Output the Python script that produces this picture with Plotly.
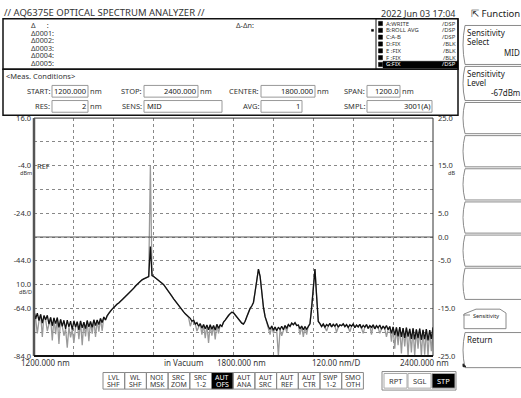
import plotly.graph_objects as go

W, H = 521, 398
FONT = "Noto Sans"

# ---------------- data ----------------
WL_START_NM = 1200
WL_STEP_NM = 5
# Trace A (black, WRITE) in dBm, one value every 5 nm from 1200 to 2400 nm
TRACE_A_DBM = [
    -65.2, -68.4, -66.0, -69.1, -66.5, -70.2, -67.0, -68.8, -66.9, -70.6,
    -67.8, -71.3, -68.0, -70.4, -67.9, -72.0, -68.6, -71.5, -69.0, -72.6,
    -68.9, -71.8, -69.4, -72.9, -69.2, -71.9, -69.6, -73.0, -69.3, -72.2,
    -69.8, -72.5, -69.1, -71.8, -69.5, -72.0, -68.8, -71.2, -68.9, -70.8,
    -68.2, -70.0, -67.6, -68.9, -67.0, -66.0, -65.0, -64.3, -63.6, -62.8,
    -62.2, -61.7, -61.0, -60.5, -59.9, -59.2, -58.6, -57.8, -57.0, -56.2,
    -55.5, -54.6, -53.9, -53.2, -52.6, -52.0, -51.6, -51.2, -50.9, -50.6,
    -38.0, -50.2, -50.6, -51.1, -51.6, -52.2, -52.8, -53.4, -54.0, -54.9,
    -55.9, -57.0, -58.0, -59.0, -60.0, -61.0, -62.0, -62.9, -63.8, -64.6,
    -65.5, -66.3, -67.0, -67.9, -68.2, -69.4, -69.0, -70.6, -70.0, -71.5,
    -70.4, -72.3, -70.8, -72.6, -71.0, -73.0, -70.9, -72.8, -71.2, -73.1,
    -70.7, -72.4, -70.9, -71.6, -69.8, -68.9, -67.8, -67.0, -66.2, -65.6,
    -65.9, -66.8, -67.6, -68.6, -69.4, -70.2, -70.6, -69.4, -67.5, -65.4,
    -64.0, -63.0, -61.5, -57.0, -51.0, -47.5, -50.5, -57.5, -63.5, -67.5,
    -70.0, -71.6, -72.8, -71.4, -73.2, -71.8, -73.4, -71.9, -72.9, -71.5,
    -73.0, -71.2, -72.4, -70.8, -71.6, -70.2, -70.9, -70.0, -71.2, -71.0,
    -72.6, -71.4, -73.0, -71.6, -72.8, -71.3, -70.5, -64.0, -55.0, -47.5,
    -59.0, -69.5, -70.4, -71.6, -70.6, -71.9, -70.8, -71.4, -70.3, -71.8,
    -70.7, -71.5, -70.4, -71.9, -70.9, -71.3, -70.5, -71.7, -70.8, -72.0,
    -70.9, -71.5, -70.6, -72.1, -71.0, -71.8, -70.7, -72.3, -71.1, -71.9,
    -70.8, -72.4, -71.2, -72.0, -70.9, -72.6, -71.3, -72.2, -71.0, -72.8,
    -71.4, -72.5, -71.2, -73.0, -71.6, -74.5, -71.8, -75.2, -72.0, -75.8,
    -71.9, -76.0, -72.3, -76.4, -72.1, -75.9, -72.6, -76.8, -72.4, -77.0,
    -72.8, -76.5, -72.5, -77.2, -73.0, -76.9, -72.7, -77.5, -73.1, -76.8,
    -72.0,
]
# Trace B (grey) equals trace A except at these wavelengths (nm -> dBm)
TRACE_B_DIFF = {
    1210: -74.5, 1225: -76.0, 1240: -73.5, 1255: -77.5, 1265: -74.8, 1275: -79.0,
    1290: -75.5, 1300: -80.5, 1310: -76.2, 1320: -78.5, 1335: -77.0, 1345: -79.5,
    1355: -75.8, 1365: -77.8, 1375: -74.6, 1385: -76.0, 1395: -73.8, 1405: -73.5,
    1550: -4.0,
    1670: -71.5, 1690: -73.5, 1705: -75.0, 1715: -76.5, 1725: -78.5, 1735: -75.5,
    1745: -77.0, 1755: -74.5,
    1910: -75.0, 1920: -74.5, 1935: -84.0, 1945: -75.5, 1960: -74.0, 2000: -75.0,
    2010: -76.0, 2020: -75.0,
    2080: -73.5, 2110: -74.0, 2150: -73.8, 2190: -74.5, 2215: -75.0, 2240: -74.5,
    2260: -76.0, 2275: -78.0, 2285: -81.0, 2295: -79.5, 2305: -83.0, 2315: -80.0,
    2325: -84.0, 2335: -82.5, 2345: -84.0, 2355: -81.0, 2365: -84.0, 2375: -83.5,
    2385: -84.0, 2395: -82.0,
}
LEFT_TICKS = [16, 6, -4, -14, -24, -34, -44, -54, -64, -74, -84]
LEFT_TICK_TEXT = ["16.0", "", "-4.0", "", "-24.0", "", "-44.0", "10.0", "-64.0", "", "-84.0"]
RIGHT_TICKS = [25, 15, 5, 0, -5, -15, -25]
RIGHT_TICK_TEXT = ["25.0", "15.0", "5.0", "0.0", "-5.0", "-15.0", "-25.0"]

wavelengths = [WL_START_NM + WL_STEP_NM * i for i in range(len(TRACE_A_DBM))]
trace_b = [TRACE_B_DIFF.get(w, v) for w, v in zip(wavelengths, TRACE_A_DBM)]

# ---------------- geometry (pixels) ----------------
PL, PR, PT, PB = 34, 433, 116, 360


def px(x):
    return x / W


def py(y):
    return 1 - y / H


def yv(v):
    """pixel row of a dBm value (for labels placed beside gridlines)"""
    return PT + (16 - v) * (PB - PT) / 100.0


shapes = []
annotations = []


def rect(x0, y0, x1, y1, line="#000", width=1, fill="rgba(0,0,0,0)"):
    shapes.append(dict(type="rect", xref="paper", yref="paper",
                       x0=px(x0), x1=px(x1), y0=py(y1), y1=py(y0),
                       line=dict(color=line, width=width), fillcolor=fill, layer="above"))


def line(x0, y0, x1, y1, color="#000", width=1):
    shapes.append(dict(type="line", xref="paper", yref="paper",
                       x0=px(x0), x1=px(x1), y0=py(y0), y1=py(y1),
                       line=dict(color=color, width=width), layer="above"))


def path(d, color="#888", width=1, fill="rgba(0,0,0,0)"):
    shapes.append(dict(type="path", xref="paper", yref="paper", path=d,
                       line=dict(color=color, width=width), fillcolor=fill, layer="above"))


def P(x, y):
    return f"{px(x)},{py(y)}"


def txt(x, y, s, size=8, anchor="left", color="#222"):
    annotations.append(dict(x=px(x), y=py(y), xref="paper", yref="paper", text=s,
                            showarrow=False, xanchor=anchor, yanchor="middle",
                            font=dict(size=size, color=color, family=FONT),
                            borderpad=0))


fig = go.Figure()
fig.add_trace(go.Scatter(x=wavelengths, y=trace_b, mode="lines",
                         line=dict(color="#9a9a9a", width=1.3), hoverinfo="skip"))
fig.add_trace(go.Scatter(x=wavelengths, y=TRACE_A_DBM, mode="lines",
                         line=dict(color="#111111", width=1.3), hoverinfo="skip"))
fig.add_trace(go.Scatter(x=[1200, 2400], y=[0, 0], mode="lines", yaxis="y2",
                         line=dict(color="#555555", width=1.2), hoverinfo="skip"))

# ---------------- header ----------------
txt(3, 8, "// AQ6375E OPTICAL SPECTRUM ANALYZER //", 9.5, color="#333")
txt(457, 8.5, "2022 Jun 03 17:04", 9, "right", "#333")
txt(521, 9, "⇱ Function", 9.5, "right", "#222")

rect(3, 14, 458, 66, "#111", 1.5)
delta_rows = ["Δ&nbsp;&nbsp;&nbsp;&nbsp;&nbsp;&nbsp;:", "Δ0001:", "Δ0002:", "Δ0003:", "Δ0004:", "Δ0005:"]
for k, s in enumerate(delta_rows):
    txt(30, 21 + 7.6 * k, s, 7.2, color="#333")
txt(235, 21, "Δ-Δn:", 7.2, color="#333")

rect(376, 14, 458, 66, "#111", 1)
trace_rows = [("A:WRITE", "/DSP"), ("B:ROLL AVG", "/DSP"), ("C:A-B", "/DSP"), ("D:FIX", "/BLK"),
              ("E :FIX", "/BLK"), ("F :FIX", "/BLK"), ("G:FIX", "/DSP")]
for k, (a, b) in enumerate(trace_rows):
    yy = 19 + 7 * k
    if k == 6:
        rect(383, yy - 3.3, 458, yy + 3.5, "#000", 0.5, "#000")
        c = "#fff"
    else:
        c = "#333"
    rect(378.5, yy - 2.2, 382.5, yy + 2.2, "#000", 0.5, "#000")
    txt(385, yy, a, 5.9, color=c)
    txt(457, yy, b, 5.9, "right", c)
rect(371.5, 25, 373.5, 27, "#000", 0.5, "#000")

# ---------------- measurement conditions ----------------
rect(3, 66, 458, 113, "#111", 1.5)
txt(5, 73, "&lt;Meas. Conditions&gt;", 7.5, color="#333")
row1 = [("START:", 52, 88, "1200.000", "nm"), ("STOP:", 144, 198, "2400.000", "nm"),
        ("CENTER:", 261, 315, "1800.000", "nm"), ("SPAN:", 367, 400, "1200.0", "nm")]
row2 = [("RES:", 52, 88, "2", "nm"), ("SENS:", 144, 222, "MID", ""),
        ("AVG:", 261, 302, "1", ""), ("SMPL:", 367, 432, "3001(A)", "")]
for yy, row in ((88.5, row1), (104, row2)):
    for lab, bx0, bx1, val, unit in row:
        txt(bx0 - 1, yy, lab, 7.5, "right", "#333")
        rect(bx0, yy - 6, bx1, yy + 6, "#999", 1)
        if val == "MID":
            txt(bx0 + 2, yy, val, 7.5, color="#222")
        else:
            txt(bx1 - 1, yy, val, 7.5, "right", "#222")
        if unit:
            txt(bx1 + 1, yy, unit, 7.5, color="#333")

# ---------------- right soft keys ----------------
def softkey(y0, y1, x0=461, x1=530):
    d = (f"M{P(x0 + 4, y0)} L{P(x1, y0)} L{P(x1, y1)} L{P(x0 + 4, y1)} "
         f"Q{P(x0, (y0 + y1) / 2)} {P(x0 + 4, y0)}")
    path(d, "#8a8a8a", 1)


softkey(21, 61)
txt(466, 28, "Sensitivity", 8, color="#222")
txt(466, 37.5, "Select", 8, color="#222")
txt(521, 49, "MID", 8, "right", "#222")
softkey(63, 98)
txt(466, 70, "Sensitivity", 8, color="#222")
txt(466, 79.5, "Level", 8, color="#222")
txt(521, 90, "-67dBm", 8, "right", "#222")
for k in range(6):
    y0 = 100 + 34 * k
    softkey(y0, y0 + 32)
# small "Sensitivity" tab key
tab = (f"M{P(464, 317)} L{P(476, 312)} L{P(500, 312)} L{P(506, 316)} L{P(506, 332)} "
       f"L{P(464, 332)} Z")
path(tab, "#8a8a8a", 1)
line(463, 318, 470, 318, "#8a8a8a", 1)
txt(472, 319, "Sensitivity", 5.5, color="#222")
softkey(336, 372)
txt(466, 343, "Return", 8, color="#222")
path(f"M{P(463, 368)} L{P(466, 371)} L{P(463, 371)} Z", "#222", 1, "#222")

# ---------------- plot frame and labels ----------------
rect(PL, PT, PR, PB, "#333", 1)
line(PL, PT, PL, PB, "#555", 2.5)
line(PL, PB, PR, PB, "#111", 2)
txt(PL + 2, yv(-4), "REF", 7.5, color="#333")
txt(33, yv(-4) + 7.5, "dBm", 5.5, "right", "#333")
txt(33, yv(-54) + 7.5, "dB/D", 5.5, "right", "#333")
txt(447, yv(-4) + 7.5, "dB", 5.5, "left", "#333")

txt(20, 367, "1200.000 nm", 8, color="#333")
txt(183, 367, "in Vacuum", 8, "center", "#333")
txt(241, 367, "1800.000 nm", 8, "center", "#333")
txt(336, 367, "120.00 nm/D", 8, "center", "#333")
txt(450, 367, "2400.000 nm", 8, "right", "#333")

# ---------------- bottom buttons ----------------
buttons = [("LVL", "SHF"), ("WL", "SHF"), ("NOI", "MSK"), ("SRC", "ZOM"), ("SRC", "1-2"),
           ("AUT", "OFS"), ("AUT", "ANA"), ("AUT", "SRC"), ("AUT", "REF"), ("AUT", "CTR"),
           ("SWP", "1-2"), ("SMO", "OTH")]
bw = 21.7
for k, (a, b) in enumerate(buttons):
    x0 = 103 + bw * k
    dark = (a, b) == ("AUT", "OFS")
    rect(x0, 377, x0 + bw, 394, "#888", 1, "#000" if dark else "rgba(0,0,0,0)")
    c = "#fff" if dark else "#333"
    txt(x0 + bw / 2, 382, a, 7, "center", c)
    txt(x0 + bw / 2, 389.5, b, 7, "center", c)
rect(382, 376, 456, 395, "#888", 1)
for k, s in enumerate(["RPT", "SGL", "STP"]):
    x0 = 384 + 24 * k
    dark = s == "STP"
    rect(x0, 378, x0 + 23, 393, "#aaa", 1, "#000" if dark else "rgba(0,0,0,0)")
    txt(x0 + 11.5, 385.5, s, 7.5, "center", "#fff" if dark else "#333")

fig.update_layout(
    width=W, height=H, autosize=False,
    margin=dict(l=0, r=0, t=0, b=0, pad=0),
    paper_bgcolor="#ffffff", plot_bgcolor="#ffffff",
    showlegend=False,
    font=dict(family=FONT, size=8, color="#333"),
    xaxis=dict(domain=[px(PL), px(PR)], range=[1200, 2400], tick0=1200, dtick=120,
               showticklabels=False, ticks="", showgrid=True, gridcolor="#888",
               griddash="dot", gridwidth=1, zeroline=False, showline=False, fixedrange=True),
    yaxis=dict(domain=[py(PB), py(PT)], range=[-84, 16], tickmode="array",
               tickvals=LEFT_TICKS, ticktext=LEFT_TICK_TEXT, ticks="",
               tickfont=dict(size=7.5, color="#333", family=FONT), ticklabelstandoff=2,
               showgrid=True, gridcolor="#888", griddash="dot", gridwidth=1,
               zeroline=False, showline=False, fixedrange=True),
    yaxis2=dict(overlaying="y", side="right", anchor="x", range=[-25, 25],
                tickmode="array", tickvals=RIGHT_TICKS, ticktext=RIGHT_TICK_TEXT, ticks="",
                tickfont=dict(size=7.5, color="#333", family=FONT), ticklabelstandoff=4,
                showgrid=False, zeroline=False, showline=False, fixedrange=True),
    shapes=shapes,
    annotations=annotations,
)

fig.write_html("out.html", config={"displayModeBar": False},
               post_script="document.body.style.margin='0px';document.body.style.overflow='hidden';")
